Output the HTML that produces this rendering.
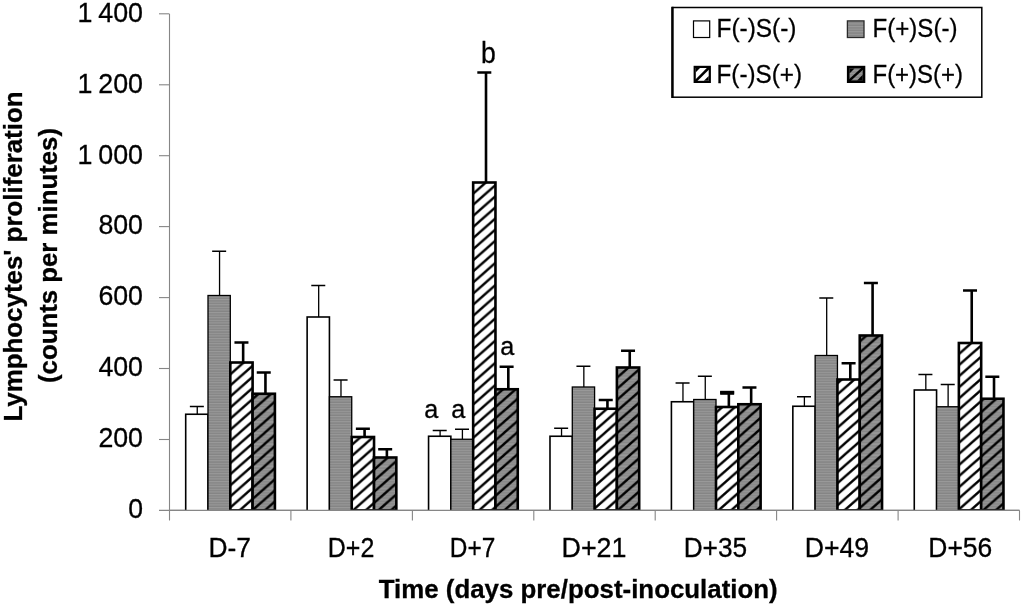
<!DOCTYPE html>
<html lang="en"><head><meta charset="utf-8"><title>Lymphocytes' proliferation</title>
<style>html,body{margin:0;padding:0;background:#fff;overflow:hidden}svg{display:block}text{font-family:"Liberation Sans", sans-serif;fill:#000;stroke:#000;stroke-width:0.3px}</style></head><body>
<svg width="1024" height="605" viewBox="0 0 1024 605">
<defs>
<pattern id="pg" width="4" height="2.6" patternUnits="userSpaceOnUse"><rect width="4" height="2.6" fill="#858585"/><rect y="0" width="4" height="1.1" fill="#9a9a9a"/></pattern>
<pattern id="ph" width="12.60" height="11.10" patternUnits="userSpaceOnUse" patternTransform="translate(0.00 0.00)"><rect width="12.60" height="11.10" fill="#fff"/><path d="M-12.60 11.10 L25.20 -22.20" stroke="#000" stroke-width="2.4"/><path d="M-12.60 22.20 L25.20 -11.10" stroke="#000" stroke-width="2.4"/><path d="M-12.60 33.30 L25.20 0.00" stroke="#000" stroke-width="2.4"/></pattern>
<pattern id="pd" width="12.60" height="11.10" patternUnits="userSpaceOnUse" patternTransform="translate(0.00 0.00)"><rect width="12.60" height="11.10" fill="url(#pg)"/><path d="M-12.60 11.10 L25.20 -22.20" stroke="#000" stroke-width="2.4"/><path d="M-12.60 22.20 L25.20 -11.10" stroke="#000" stroke-width="2.4"/><path d="M-12.60 33.30 L25.20 0.00" stroke="#000" stroke-width="2.4"/></pattern>
</defs>
<rect width="1024" height="605" fill="#fff"/>
<g stroke="#868686" stroke-width="1.1" fill="none">
<path d="M169.5 14 V520.5"/>
<path d="M159 510.4 H1019.5"/>
<path d="M159 439.5 H169.5"/>
<path d="M159 368.5 H169.5"/>
<path d="M159 297.6 H169.5"/>
<path d="M159 226.6 H169.5"/>
<path d="M159 155.7 H169.5"/>
<path d="M159 84.8 H169.5"/>
<path d="M159 13.8 H169.5"/>
<path d="M290.9 510.4 V520.5"/>
<path d="M412.4 510.4 V520.5"/>
<path d="M533.8 510.4 V520.5"/>
<path d="M655.2 510.4 V520.5"/>
<path d="M776.6 510.4 V520.5"/>
<path d="M898.1 510.4 V520.5"/>
<path d="M1019.5 510.4 V520.5"/>
</g>
<text x="143" y="518.2" font-size="27" word-spacing="-1.5" text-anchor="end" textLength="14.8" lengthAdjust="spacingAndGlyphs">0</text>
<text x="143" y="447.3" font-size="27" word-spacing="-1.5" text-anchor="end" textLength="44.6" lengthAdjust="spacingAndGlyphs">200</text>
<text x="143" y="376.3" font-size="27" word-spacing="-1.5" text-anchor="end" textLength="44.6" lengthAdjust="spacingAndGlyphs">400</text>
<text x="143" y="305.4" font-size="27" word-spacing="-1.5" text-anchor="end" textLength="44.6" lengthAdjust="spacingAndGlyphs">600</text>
<text x="143" y="234.4" font-size="27" word-spacing="-1.5" text-anchor="end" textLength="44.6" lengthAdjust="spacingAndGlyphs">800</text>
<text x="143" y="163.5" font-size="27" word-spacing="-1.5" text-anchor="end" textLength="65.6" lengthAdjust="spacingAndGlyphs">1 000</text>
<text x="143" y="92.6" font-size="27" word-spacing="-1.5" text-anchor="end" textLength="65.6" lengthAdjust="spacingAndGlyphs">1 200</text>
<text x="143" y="21.6" font-size="27" word-spacing="-1.5" text-anchor="end" textLength="65.6" lengthAdjust="spacingAndGlyphs">1 400</text>
<clipPath id="cb"><rect x="0" y="0" width="1024" height="510.6"/></clipPath><g clip-path="url(#cb)">
<path d="M197.25 414.25 V406.50 M189.85 406.50 H203.85" stroke="#000" stroke-width="1.3" fill="none"/>
<path d="M219.55 295.50 V251.25 M212.15 251.25 H226.15" stroke="#000" stroke-width="1.3" fill="none"/>
<path d="M243.15 362.50 V342.50 M234.45 342.50 H248.45" stroke="#000" stroke-width="2.6" fill="none"/>
<path d="M265.45 393.75 V372.50 M256.75 372.50 H270.75" stroke="#000" stroke-width="2.6" fill="none"/>
<rect x="185.70" y="414.25" width="22.30" height="99.15" fill="#fff" stroke="#000" stroke-width="1.6"/>
<rect x="208.00" y="295.50" width="22.30" height="217.90" fill="url(#pg)" stroke="#000" stroke-width="1.3"/>
<rect x="230.30" y="362.50" width="22.30" height="147.90" fill="url(#ph)" stroke="#000" stroke-width="2.6"/>
<rect x="252.60" y="393.75" width="22.30" height="116.65" fill="url(#pd)" stroke="#000" stroke-width="2.6"/>
<path d="M318.68 317.00 V285.50 M311.28 285.50 H325.28" stroke="#000" stroke-width="1.3" fill="none"/>
<path d="M340.98 396.75 V380.00 M333.58 380.00 H347.58" stroke="#000" stroke-width="1.3" fill="none"/>
<path d="M364.58 437.00 V428.75 M355.88 428.75 H369.88" stroke="#000" stroke-width="2.6" fill="none"/>
<path d="M386.88 457.50 V449.25 M378.18 449.25 H392.18" stroke="#000" stroke-width="2.6" fill="none"/>
<rect x="307.13" y="317.00" width="22.30" height="196.40" fill="#fff" stroke="#000" stroke-width="1.6"/>
<rect x="329.43" y="396.75" width="22.30" height="116.65" fill="url(#pg)" stroke="#000" stroke-width="1.3"/>
<rect x="351.73" y="437.00" width="22.30" height="73.40" fill="url(#ph)" stroke="#000" stroke-width="2.6"/>
<rect x="374.03" y="457.50" width="22.30" height="52.90" fill="url(#pd)" stroke="#000" stroke-width="2.6"/>
<path d="M440.11 436.25 V430.50 M432.71 430.50 H446.71" stroke="#000" stroke-width="1.3" fill="none"/>
<path d="M462.41 439.25 V429.25 M455.01 429.25 H469.01" stroke="#000" stroke-width="1.3" fill="none"/>
<path d="M486.01 182.50 V72.50 M477.31 72.50 H491.31" stroke="#000" stroke-width="2.6" fill="none"/>
<path d="M508.31 389.25 V366.75 M499.61 366.75 H513.61" stroke="#000" stroke-width="2.6" fill="none"/>
<rect x="428.56" y="436.25" width="22.30" height="77.15" fill="#fff" stroke="#000" stroke-width="1.6"/>
<rect x="450.86" y="439.25" width="22.30" height="74.15" fill="url(#pg)" stroke="#000" stroke-width="1.3"/>
<rect x="473.16" y="182.50" width="22.30" height="327.90" fill="url(#ph)" stroke="#000" stroke-width="2.6"/>
<rect x="495.46" y="389.25" width="22.30" height="121.15" fill="url(#pd)" stroke="#000" stroke-width="2.6"/>
<path d="M561.54 436.25 V428.25 M554.14 428.25 H568.14" stroke="#000" stroke-width="1.3" fill="none"/>
<path d="M583.84 387.00 V366.25 M576.44 366.25 H590.44" stroke="#000" stroke-width="1.3" fill="none"/>
<path d="M607.44 408.75 V400.00 M598.74 400.00 H612.74" stroke="#000" stroke-width="2.6" fill="none"/>
<path d="M629.74 367.50 V350.75 M621.04 350.75 H635.04" stroke="#000" stroke-width="2.6" fill="none"/>
<rect x="549.99" y="436.25" width="22.30" height="77.15" fill="#fff" stroke="#000" stroke-width="1.6"/>
<rect x="572.29" y="387.00" width="22.30" height="126.40" fill="url(#pg)" stroke="#000" stroke-width="1.3"/>
<rect x="594.59" y="408.75" width="22.30" height="101.65" fill="url(#ph)" stroke="#000" stroke-width="2.6"/>
<rect x="616.89" y="367.50" width="22.30" height="142.90" fill="url(#pd)" stroke="#000" stroke-width="2.6"/>
<path d="M682.96 401.75 V383.00 M675.56 383.00 H689.56" stroke="#000" stroke-width="1.3" fill="none"/>
<path d="M705.26 399.50 V376.25 M697.86 376.25 H711.86" stroke="#000" stroke-width="1.3" fill="none"/>
<path d="M720.16 392.80 H734.16" stroke="#000" stroke-width="4" fill="none"/>
<path d="M728.86 407.00 V392.50 M720.16 392.50 H734.16" stroke="#000" stroke-width="2.6" fill="none"/>
<path d="M751.16 404.25 V387.50 M742.46 387.50 H756.46" stroke="#000" stroke-width="2.6" fill="none"/>
<rect x="671.41" y="401.75" width="22.30" height="111.65" fill="#fff" stroke="#000" stroke-width="1.6"/>
<rect x="693.71" y="399.50" width="22.30" height="113.90" fill="url(#pg)" stroke="#000" stroke-width="1.3"/>
<rect x="716.01" y="407.00" width="22.30" height="103.40" fill="url(#ph)" stroke="#000" stroke-width="2.6"/>
<rect x="738.31" y="404.25" width="22.30" height="106.15" fill="url(#pd)" stroke="#000" stroke-width="2.6"/>
<path d="M804.39 406.25 V396.75 M796.99 396.75 H810.99" stroke="#000" stroke-width="1.3" fill="none"/>
<path d="M826.69 355.50 V298.00 M819.29 298.00 H833.29" stroke="#000" stroke-width="1.3" fill="none"/>
<path d="M850.29 379.50 V363.25 M841.59 363.25 H855.59" stroke="#000" stroke-width="2.6" fill="none"/>
<path d="M872.59 335.50 V283.00 M863.89 283.00 H877.89" stroke="#000" stroke-width="2.6" fill="none"/>
<rect x="792.84" y="406.25" width="22.30" height="107.15" fill="#fff" stroke="#000" stroke-width="1.6"/>
<rect x="815.14" y="355.50" width="22.30" height="157.90" fill="url(#pg)" stroke="#000" stroke-width="1.3"/>
<rect x="837.44" y="379.50" width="22.30" height="130.90" fill="url(#ph)" stroke="#000" stroke-width="2.6"/>
<rect x="859.74" y="335.50" width="22.30" height="174.90" fill="url(#pd)" stroke="#000" stroke-width="2.6"/>
<path d="M925.82 390.00 V374.50 M918.42 374.50 H932.42" stroke="#000" stroke-width="1.3" fill="none"/>
<path d="M948.12 406.75 V384.50 M940.72 384.50 H954.72" stroke="#000" stroke-width="1.3" fill="none"/>
<path d="M971.72 343.00 V290.50 M963.02 290.50 H977.02" stroke="#000" stroke-width="2.6" fill="none"/>
<path d="M994.02 398.75 V376.75 M985.32 376.75 H999.32" stroke="#000" stroke-width="2.6" fill="none"/>
<rect x="914.27" y="390.00" width="22.30" height="123.40" fill="#fff" stroke="#000" stroke-width="1.6"/>
<rect x="936.57" y="406.75" width="22.30" height="106.65" fill="url(#pg)" stroke="#000" stroke-width="1.3"/>
<rect x="958.87" y="343.00" width="22.30" height="167.40" fill="url(#ph)" stroke="#000" stroke-width="2.6"/>
<rect x="981.17" y="398.75" width="22.30" height="111.65" fill="url(#pd)" stroke="#000" stroke-width="2.6"/>
</g>
<path d="M169.5 510.4 H1019.5" stroke="#868686" stroke-width="1.3"/>
<text x="229.7" y="556.5" font-size="27.3" text-anchor="middle" textLength="42.5" lengthAdjust="spacingAndGlyphs">D-7</text>
<text x="351.1" y="556.5" font-size="27.3" text-anchor="middle" textLength="46.5" lengthAdjust="spacingAndGlyphs">D+2</text>
<text x="472.6" y="556.5" font-size="27.3" text-anchor="middle" textLength="45.5" lengthAdjust="spacingAndGlyphs">D+7</text>
<text x="594.0" y="556.5" font-size="27.3" text-anchor="middle" textLength="65.0" lengthAdjust="spacingAndGlyphs">D+21</text>
<text x="715.4" y="556.5" font-size="27.3" text-anchor="middle" textLength="63.5" lengthAdjust="spacingAndGlyphs">D+35</text>
<text x="836.9" y="556.5" font-size="27.3" text-anchor="middle" textLength="64.5" lengthAdjust="spacingAndGlyphs">D+49</text>
<text x="960.3" y="556.5" font-size="27.3" text-anchor="middle" textLength="64.0" lengthAdjust="spacingAndGlyphs">D+56</text>
<text x="431.2" y="418" font-size="25" text-anchor="middle" textLength="14" lengthAdjust="spacingAndGlyphs">a</text>
<text x="458.2" y="418" font-size="25" text-anchor="middle" textLength="14" lengthAdjust="spacingAndGlyphs">a</text>
<text x="507.2" y="355" font-size="25" text-anchor="middle" textLength="14" lengthAdjust="spacingAndGlyphs">a</text>
<text x="488.4" y="63.3" font-size="29" text-anchor="middle" textLength="14.8" lengthAdjust="spacingAndGlyphs">b</text>
<text x="578.2" y="598.2" font-size="26.5" font-weight="bold" text-anchor="middle" textLength="399" lengthAdjust="spacingAndGlyphs">Time (days pre/post-inoculation)</text>
<text transform="translate(21.9 256.5) rotate(-90)" font-size="26" font-weight="bold" text-anchor="middle" textLength="330" lengthAdjust="spacingAndGlyphs">Lymphocytes' proliferation</text>
<text transform="translate(57 255.5) rotate(-90)" font-size="26" font-weight="bold" text-anchor="middle" textLength="255" lengthAdjust="spacingAndGlyphs">(counts per minutes)</text>
<rect x="672.5" y="7.5" width="309.3" height="89.7" fill="#fff" stroke="#000" stroke-width="1.5"/>
<path d="M672.4 6.8 V98" stroke="#000" stroke-width="2.4"/>
<rect x="693.5" y="20.9" width="16.2" height="16.6" fill="#fff" stroke="#000" stroke-width="1.2"/>
<rect x="847.4" y="20.9" width="16.6" height="16.6" fill="url(#pg)" stroke="#2a2a2a" stroke-width="1.3"/>
<rect x="693.60" y="65.80" width="17.30" height="17.20" fill="#000"/><rect x="695.80" y="68.00" width="12.90" height="12.80" fill="#fff"/><path d="M695.30 81.30 L709.20 67.50" stroke="#000" stroke-width="2.5"/><path d="M695.80 68.00 h4.20 l-4.20 4.20 z" fill="#000"/><path d="M708.70 80.80 h-4.80 l4.80 -4.80 z" fill="#000"/>
<rect x="846.90" y="65.80" width="18.40" height="17.20" fill="#000"/><rect x="849.50" y="68.40" width="13.20" height="12.00" fill="url(#pg)"/><path d="M849.00 80.90 L863.20 67.90" stroke="#000" stroke-width="2.5"/><path d="M849.50 68.40 h5.00 l-5.00 5.00 z" fill="#000"/><path d="M862.70 80.40 h-5.60 l5.60 -5.60 z" fill="#000"/>
<text x="716.5" y="36.7" font-size="26.3" textLength="80" lengthAdjust="spacingAndGlyphs">F(-)S(-)</text>
<text x="872.5" y="36.7" font-size="26.3" textLength="85" lengthAdjust="spacingAndGlyphs">F(+)S(-)</text>
<text x="716.5" y="83" font-size="26.3" textLength="85.5" lengthAdjust="spacingAndGlyphs">F(-)S(+)</text>
<text x="872.5" y="83" font-size="26.3" textLength="90.5" lengthAdjust="spacingAndGlyphs">F(+)S(+)</text>
</svg></body></html>
